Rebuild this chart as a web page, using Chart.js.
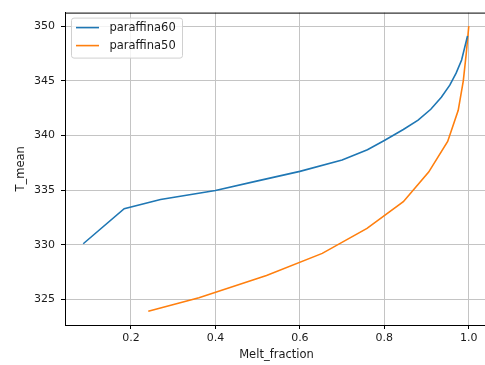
<!DOCTYPE html>
<html>
<head>
<meta charset="utf-8">
<script src="https://cdn.jsdelivr.net/npm/chart.js@4/dist/chart.umd.min.js"></script>
<style>
  html, body { margin: 0; padding: 0; background: #ffffff; overflow: hidden; }
  #wrap { width: 490px; height: 365px; }
</style>
</head>
<body>
<div id="wrap"><canvas id="c" width="490" height="365"></canvas></div>
<script>
// Melt fraction vs mean temperature for two paraffin samples
const seriesNames = ['paraffina60', 'paraffina50'];
const seriesColors = ['#1f77b4', '#ff7f0e'];

const melt60 = [0.087, 0.184, 0.27, 0.40, 0.50, 0.60, 0.70, 0.76, 0.80, 0.845, 0.88, 0.91, 0.935, 0.955, 0.97, 0.983, 0.997];
const temp60 = [330.1, 333.3, 334.15, 334.97, 335.85, 336.72, 337.75, 338.7, 339.55, 340.55, 341.4, 342.4, 343.5, 344.6, 345.7, 346.9, 349.1];

const melt50 = [0.241, 0.361, 0.521, 0.653, 0.759, 0.845, 0.905, 0.950, 0.975, 0.987, 0.994, 1.000];
const temp50 = [323.93, 325.17, 327.19, 329.22, 331.5, 333.94, 336.65, 339.45, 342.3, 345.0, 347.5, 350.0];

const xTicks = [0.2, 0.4, 0.6, 0.8, 1.0];
const yTicks = [325, 330, 335, 340, 345, 350];

const TICK_FONT = { family: 'DejaVu Sans', size: 11 };
const LABEL_FONT = { family: 'DejaVu Sans', size: 11.5 };
const TEXT = '#1a1a1a';

function toPoints(xs, ys) { return xs.map((x, i) => ({ x: x, y: ys[i] })); }

// Top/right spines and an in-plot legend box
const framePlugin = {
  id: 'frame',
  afterDraw(chart) {
    const { ctx, chartArea: a } = chart;
    ctx.save();
    ctx.strokeStyle = '#000000';
    ctx.lineWidth = 1;
    ctx.beginPath();
    ctx.moveTo(a.left, a.top + 0.5);
    ctx.lineTo(a.right, a.top + 0.5);
    ctx.moveTo(a.right - 0.5, a.top);
    ctx.lineTo(a.right - 0.5, a.bottom);
    ctx.stroke();

    // legend
    const bx = a.left + 6.5, by = a.top + 5.5, bw = 111, bh = 40, r = 2.5;
    ctx.beginPath();
    ctx.moveTo(bx + r, by);
    ctx.lineTo(bx + bw - r, by);
    ctx.arcTo(bx + bw, by, bx + bw, by + r, r);
    ctx.lineTo(bx + bw, by + bh - r);
    ctx.arcTo(bx + bw, by + bh, bx + bw - r, by + bh, r);
    ctx.lineTo(bx + r, by + bh);
    ctx.arcTo(bx, by + bh, bx, by + bh - r, r);
    ctx.lineTo(bx, by + r);
    ctx.arcTo(bx, by, bx + r, by, r);
    ctx.closePath();
    ctx.fillStyle = 'rgba(255,255,255,0.8)';
    ctx.fill();
    ctx.strokeStyle = '#d0d0d0';
    ctx.lineWidth = 1;
    ctx.stroke();

    ctx.font = LABEL_FONT.size + 'px ' + LABEL_FONT.family;
    ctx.textBaseline = 'middle';
    ctx.textAlign = 'left';
    chart.data.datasets.forEach((ds, i) => {
      const yy = by + 9.5 + i * 18;
      ctx.strokeStyle = ds.borderColor;
      ctx.lineWidth = 1.6;
      ctx.beginPath();
      ctx.moveTo(bx + 4.5, yy);
      ctx.lineTo(bx + 27.5, yy);
      ctx.stroke();
      ctx.fillStyle = TEXT;
      ctx.fillText(ds.label, bx + 38, yy + 0.5);
    });
    ctx.restore();
  }
};

new Chart(document.getElementById('c'), {
  type: 'scatter',
  data: {
    datasets: [
      { label: seriesNames[0], data: toPoints(melt60, temp60), borderColor: seriesColors[0],
        backgroundColor: seriesColors[0], showLine: true, borderWidth: 1.6, pointRadius: 0, tension: 0 },
      { label: seriesNames[1], data: toPoints(melt50, temp50), borderColor: seriesColors[1],
        backgroundColor: seriesColors[1], showLine: true, borderWidth: 1.6, pointRadius: 0, tension: 0 }
    ]
  },
  options: {
    responsive: false,
    devicePixelRatio: 1,
    animation: false,
    layout: { padding: { top: 10, right: 2, left: 0, bottom: 0 } },
    plugins: { legend: { display: false }, tooltip: { enabled: false } },
    scales: {
      x: {
        type: 'linear', min: 0.0438, max: 1.0455,
        afterBuildTicks: s => { s.ticks = xTicks.map(v => ({ value: v })); },
        afterFit: s => { s.height = 40; },
        ticks: { font: TICK_FONT, color: TEXT, padding: 3, maxRotation: 0,
                 callback: v => Number(v).toFixed(1) },
        grid: { color: '#c4c4c4', lineWidth: 1, drawTicks: true, tickLength: 4,
                tickColor: '#000000', tickWidth: 1 },
        border: { display: true, color: '#000000', width: 1 },
        title: { display: true, text: 'Melt_fraction', font: LABEL_FONT, color: TEXT,
                 padding: { top: 0, bottom: 3 } }
      },
      y: {
        type: 'linear', min: 322.67, max: 351.24,
        afterBuildTicks: s => { s.ticks = yTicks.map(v => ({ value: v })); },
        afterFit: s => { s.width = 65; },
        ticks: { font: TICK_FONT, color: TEXT, padding: 6, callback: v => String(v) },
        grid: { color: '#c4c4c4', lineWidth: 1, drawTicks: true, tickLength: 4,
                tickColor: '#000000', tickWidth: 1 },
        border: { display: true, color: '#000000', width: 1 },
        title: { display: true, text: 'T_mean', font: LABEL_FONT, color: TEXT,
                 padding: { top: 14, bottom: 0 } }
      }
    }
  },
  plugins: [framePlugin]
});
</script>
</body>
</html>
